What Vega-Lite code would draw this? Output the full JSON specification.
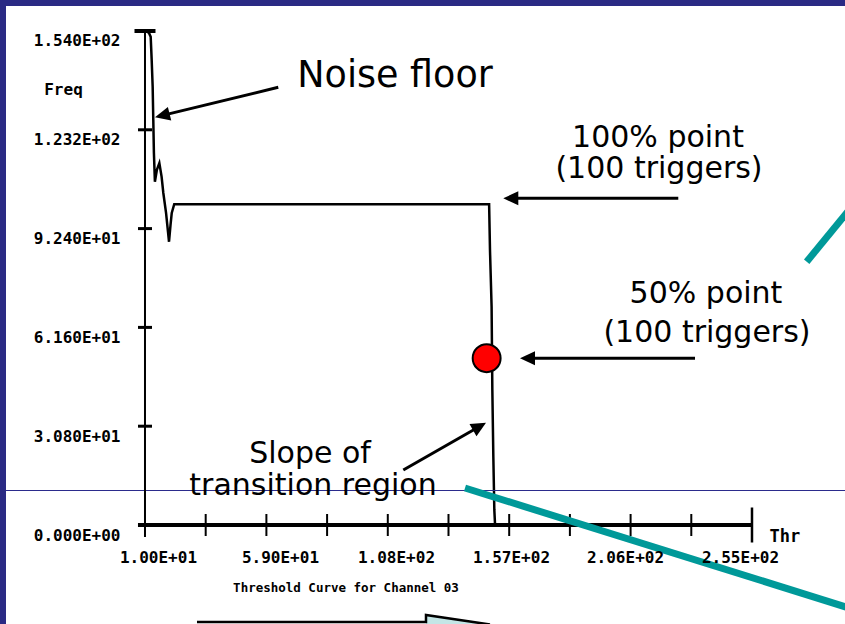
{
  "$schema": "https://vega.github.io/schema/vega-lite/v6.json",
  "width": 839,
  "height": 618,
  "autosize": {"type": "none"},
  "padding": {"left": 6, "top": 6, "right": 0, "bottom": 0},
  "background": "#2a2a84",
  "config": {"view": {"stroke": null, "fill": "white"}},
  "datasets": {
    "curve": [
      {"x": 10.6, "y": 154.0}, {"x": 11.6, "y": 153.4}, {"x": 12.3, "y": 152.2}, {"x": 12.7, "y": 145.0},
      {"x": 13.1, "y": 136.6}, {"x": 13.35, "y": 126.3}, {"x": 13.6, "y": 116.0}, {"x": 14.0, "y": 107.0},
      {"x": 14.8, "y": 110.7}, {"x": 15.8, "y": 112.8}, {"x": 16.7, "y": 108.6}, {"x": 17.4, "y": 103.5},
      {"x": 18.5, "y": 97.3}, {"x": 19.3, "y": 91.3}, {"x": 19.7, "y": 88.3}, {"x": 20.3, "y": 93.5},
      {"x": 20.8, "y": 97.3}, {"x": 21.8, "y": 100.0}, {"x": 148.9, "y": 100.0}, {"x": 149.25, "y": 85.7},
      {"x": 149.9, "y": 68.1}, {"x": 150.2, "y": 42.1}, {"x": 150.6, "y": 21.3}, {"x": 151.0, "y": 4.7},
      {"x": 151.3, "y": 0}, {"x": 255, "y": 0}
    ],
    "xticks": [{"x": 34.5}, {"x": 59}, {"x": 83.5}, {"x": 108}, {"x": 132.5}, {"x": 157}, {"x": 181.5}, {"x": 206}, {"x": 230.5}, {"x": 255}],
    "yticks": [{"y": 0}, {"y": 30.8}, {"y": 61.6}, {"y": 92.4}, {"y": 123.2}, {"y": 154}],
    "arrows": [
      {"arrow": "noise", "ord": 0, "x": 63.80, "y": 136.45}, {"arrow": "noise", "ord": 1, "x": 17.95, "y": 127.84},
      {"arrow": "hundred", "ord": 0, "x": 225.25, "y": 101.85}, {"arrow": "hundred", "ord": 1, "x": 158.65, "y": 101.85},
      {"arrow": "fifty", "ord": 0, "x": 232.0, "y": 51.97}, {"arrow": "fifty", "ord": 1, "x": 165.4, "y": 51.97},
      {"arrow": "slope", "ord": 0, "x": 114.26, "y": 17.15}, {"arrow": "slope", "ord": 1, "x": 144.12, "y": 30.33}
    ],
    "heads": [
      {"arrow": "noise", "x": 14.04, "y": 127.10, "angle": 256.3},
      {"arrow": "hundred", "x": 154.62, "y": 101.85, "angle": 270},
      {"arrow": "fifty", "x": 161.36, "y": 51.97, "angle": 270},
      {"arrow": "slope", "x": 147.64, "y": 31.89, "angle": 60.2}
    ],
    "texts": [
      {"label": "Noise floor", "x": 110.91, "y": 136.45},
      {"label": "100% point", "x": 217.06, "y": 117.84},
      {"label": "(100 triggers)", "x": 217.46, "y": 108.08},
      {"label": "50% point", "x": 236.43, "y": 69.11},
      {"label": "(100 triggers)", "x": 236.83, "y": 57.14},
      {"label": "Slope of", "x": 76.6, "y": 19.23},
      {"label": "transition region", "x": 77.81, "y": 9.35}
    ],
    "teal": [
      {"seg": "a", "x": 139.16, "y": 11.53}, {"seg": "a", "x": 298.59, "y": -26.93},
      {"seg": "b", "x": 277.08, "y": 82.08}, {"seg": "b", "x": 296.57, "y": 100.44}
    ],
    "blockOutline": [
      {"ord": 0, "x": 30.99, "y": -30.24}, {"ord": 1, "x": 123.42, "y": -30.24},
      {"ord": 2, "x": 123.42, "y": -28.06}, {"ord": 3, "x": 149.25, "y": -31.02}
    ],
    "blockHead": [{"x": 123.42, "y": -28.06}, {"x": 149.25, "y": -31.02}]
  },
  "layer": [
    {
      "data": {"name": "curve"},
      "mark": {"type": "line", "color": "black", "strokeWidth": 2.5},
      "encoding": {
        "x": {
          "field": "x", "type": "quantitative",
          "scale": {"domain": [-46.10, 292.54], "nice": false, "zero": false},
          "axis": {
            "orient": "bottom", "offset": -99, "domain": false, "ticks": false, "grid": false, "zindex": 1,
            "values": [10, 59, 108, 157, 206, 255],
            "labelExpr": "datum.value < 100 ? format(datum.value/10, '.2f') + 'E+01' : format(datum.value/100, '.2f') + 'E+02'",
            "labelFont": "DejaVu Sans Mono", "labelFontWeight": "bold", "labelFontSize": 16, "labelColor": "black",
            "labelPadding": 24, "labelAngle": 0, "labelAlign": "center", "labelBaseline": "top",
            "labelFlush": false, "labelOverlap": false,
            "labelOffset": {
              "condition": [
                {"test": "datum.value < 30", "value": 13},
                {"test": "datum.value < 80", "value": 13.6},
                {"test": "datum.value < 130", "value": 8.2},
                {"test": "datum.value < 180", "value": 1.8},
                {"test": "datum.value < 230", "value": -5.6}
              ],
              "value": -12
            },
            "title": "Threshold Curve for Channel 03", "titleX": 339.5, "titleY": 66.7, "titleAngle": 0,
            "titleAlign": "center", "titleBaseline": "alphabetic",
            "titleFont": "DejaVu Sans Mono", "titleFontWeight": "bold", "titleFontSize": 12.5, "titleColor": "black"
          }
        },
        "y": {
          "field": "y", "type": "quantitative",
          "scale": {"domain": [-30.86, 161.79], "nice": false, "zero": false},
          "axis": {
            "orient": "left", "offset": -139, "domain": false, "ticks": false, "grid": false, "zindex": 1,
            "values": [0, 30.8, 61.6, 92.4, 123.2, 154],
            "labelExpr": "datum.value >= 100 ? format(datum.value/100, '.3f') + 'E+02' : datum.value > 0 ? format(datum.value/10, '.3f') + 'E+01' : '0.000E+00'",
            "labelFont": "DejaVu Sans Mono", "labelFontWeight": "bold", "labelFontSize": 16, "labelColor": "black",
            "labelPadding": 25, "labelAlign": "right", "labelBaseline": "middle", "labelOffset": 10,
            "labelFlush": false, "labelOverlap": false,
            "title": "Freq", "titleX": -82, "titleY": 88, "titleAngle": 0,
            "titleAlign": "center", "titleBaseline": "alphabetic",
            "titleFont": "DejaVu Sans Mono", "titleFontWeight": "bold", "titleFontSize": 16, "titleColor": "black"
          }
        }
      }
    },
    {
      "data": {"values": [{}]},
      "mark": {"type": "rule", "color": "#2b2b8c", "strokeWidth": 1},
      "encoding": {"y": {"datum": 10.755, "type": "quantitative"}}
    },
    {
      "data": {"values": [{}]},
      "mark": {"type": "rule", "color": "black", "strokeWidth": 2},
      "encoding": {
        "x": {"datum": 10, "type": "quantitative"},
        "y": {"datum": -3.74, "type": "quantitative"},
        "y2": {"datum": 154}
      }
    },
    {
      "data": {"values": [{}]},
      "mark": {"type": "rule", "color": "black", "strokeWidth": 4},
      "encoding": {
        "x": {"datum": 7.17, "type": "quantitative"},
        "x2": {"datum": 255},
        "y": {"datum": 0, "type": "quantitative"}
      }
    },
    {
      "data": {"name": "xticks"},
      "transform": [{"filter": "datum.x < 255"}],
      "mark": {"type": "tick", "orient": "vertical", "thickness": 2, "color": "black", "opacity": 1},
      "encoding": {
        "x": {"field": "x", "type": "quantitative"},
        "y": {"datum": 0, "type": "quantitative"},
        "size": {"value": 22}
      }
    },
    {
      "data": {"name": "xticks"},
      "transform": [{"filter": "datum.x == 255"}],
      "mark": {"type": "tick", "orient": "vertical", "thickness": 2.5, "color": "black", "opacity": 1},
      "encoding": {
        "x": {"field": "x", "type": "quantitative"},
        "y": {"datum": 0, "type": "quantitative"},
        "size": {"value": 35}
      }
    },
    {
      "data": {"name": "yticks"},
      "transform": [{"filter": "datum.y < 154"}],
      "mark": {"type": "tick", "orient": "horizontal", "thickness": 3, "color": "black", "opacity": 1},
      "encoding": {
        "x": {"datum": 10, "type": "quantitative"},
        "y": {"field": "y", "type": "quantitative"},
        "size": {"value": 14}
      }
    },
    {
      "data": {"name": "yticks"},
      "transform": [{"filter": "datum.y == 154"}],
      "mark": {"type": "tick", "orient": "horizontal", "thickness": 4, "color": "black", "opacity": 1},
      "encoding": {
        "x": {"datum": 10, "type": "quantitative"},
        "y": {"field": "y", "type": "quantitative"},
        "size": {"value": 21}
      }
    },
    {
      "data": {"values": [{"x": 147.9, "y": 52}]},
      "mark": {"type": "point", "shape": "circle", "filled": true, "fill": "#ff0000", "stroke": "black", "strokeWidth": 2, "size": 780, "opacity": 1},
      "encoding": {
        "x": {"field": "x", "type": "quantitative"},
        "y": {"field": "y", "type": "quantitative"}
      }
    },
    {
      "data": {"name": "arrows"},
      "mark": {"type": "line", "color": "black", "strokeWidth": 3, "strokeCap": "butt"},
      "encoding": {
        "x": {"field": "x", "type": "quantitative"},
        "y": {"field": "y", "type": "quantitative"},
        "detail": {"field": "arrow"},
        "order": {"field": "ord"}
      }
    },
    {
      "data": {"name": "heads"},
      "mark": {"type": "point", "shape": "M0,0L0.47,1L-0.47,1Z", "filled": true, "color": "black", "size": 900, "opacity": 1, "strokeWidth": 0},
      "encoding": {
        "x": {"field": "x", "type": "quantitative"},
        "y": {"field": "y", "type": "quantitative"},
        "angle": {"field": "angle", "type": "quantitative", "scale": null}
      }
    },
    {
      "data": {"name": "texts"},
      "transform": [{"filter": "datum.label == 'Noise floor'"}],
      "mark": {"type": "text", "font": "DejaVu Sans", "fontSize": 36.5, "align": "center", "baseline": "alphabetic", "color": "black"},
      "encoding": {
        "x": {"field": "x", "type": "quantitative"},
        "y": {"field": "y", "type": "quantitative"},
        "text": {"field": "label"}
      }
    },
    {
      "data": {"name": "texts"},
      "transform": [{"filter": "datum.label != 'Noise floor'"}],
      "mark": {"type": "text", "font": "DejaVu Sans", "fontSize": 30, "align": "center", "baseline": "alphabetic", "color": "black"},
      "encoding": {
        "x": {"field": "x", "type": "quantitative"},
        "y": {"field": "y", "type": "quantitative"},
        "text": {"field": "label"}
      }
    },
    {
      "data": {"values": [{"label": "Thr", "x": 268.3, "y": -5.3}]},
      "mark": {"type": "text", "font": "DejaVu Sans Mono", "fontWeight": "bold", "fontSize": 17, "align": "center", "baseline": "alphabetic", "color": "black"},
      "encoding": {
        "x": {"field": "x", "type": "quantitative"},
        "y": {"field": "y", "type": "quantitative"},
        "text": {"field": "label"}
      }
    },
    {
      "data": {"name": "teal"},
      "mark": {"type": "line", "color": "#009999", "strokeWidth": 7, "strokeCap": "butt"},
      "encoding": {
        "x": {"field": "x", "type": "quantitative"},
        "y": {"field": "y", "type": "quantitative"},
        "detail": {"field": "seg"}
      }
    },
    {
      "data": {"name": "blockHead"},
      "mark": {"type": "area", "color": "#c4e6e6", "opacity": 1},
      "encoding": {
        "x": {"field": "x", "type": "quantitative"},
        "y": {"field": "y", "type": "quantitative"},
        "y2": {"datum": -32}
      }
    },
    {
      "data": {"name": "blockOutline"},
      "mark": {"type": "line", "color": "black", "strokeWidth": 2.5, "strokeCap": "butt"},
      "encoding": {
        "x": {"field": "x", "type": "quantitative"},
        "y": {"field": "y", "type": "quantitative"},
        "order": {"field": "ord"}
      }
    }
  ]
}
